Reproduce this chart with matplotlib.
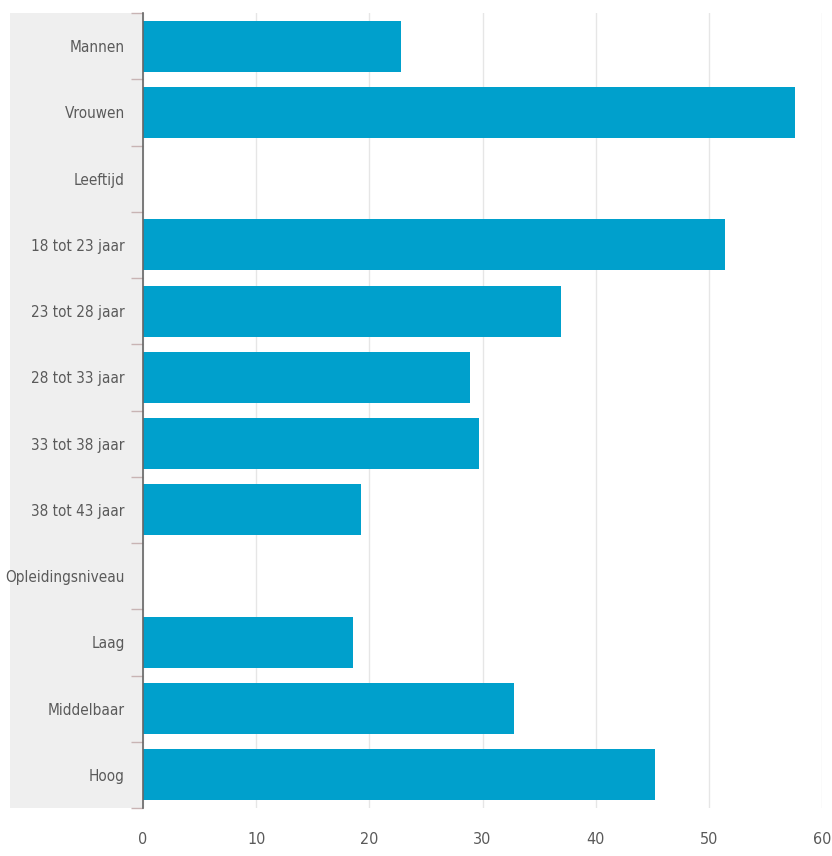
import matplotlib
matplotlib.use("Agg")
import matplotlib.pyplot as plt
from matplotlib.patches import Rectangle
import matplotlib.transforms as mtransforms
import numpy as np

categories = ["Mannen", "Vrouwen", "Leeftijd", "18 tot 23 jaar", "23 tot 28 jaar",
              "28 tot 33 jaar", "33 tot 38 jaar", "38 tot 43 jaar", "Opleidingsniveau",
              "Laag", "Middelbaar", "Hoog"]
values = [22.8, 57.6, np.nan, 51.4, 36.9, 28.9, 29.7, 19.3, np.nan, 18.6, 32.8, 45.2]
xticks = [0, 10, 20, 30, 40, 50, 60]

plt.rcParams['font.family'] = ['DejaVu Sans']
plt.rcParams['font.stretch'] = 'condensed'

fig = plt.figure(figsize=(8.32, 8.56), dpi=100)
L, R, B, T = 143/832, 822/832, 1-808/856, 1-13/856
ax = fig.add_axes([L, B, R-L, T-B])
ax.set_facecolor("none")

trans = mtransforms.blended_transform_factory(fig.transFigure, ax.transAxes)
ax.add_patch(Rectangle((10/832, 0), (143-10)/832, 1, transform=trans,
                       facecolor="#efefef", edgecolor="none", zorder=0, clip_on=False))

y = np.arange(len(categories))
vals = [0 if np.isnan(v) else v for v in values]
ax.barh(y, vals, height=0.77, color="#00a0cc", zorder=3)
ax.set_ylim(len(categories)-0.5, -0.5)
ax.set_xlim(0, 60)

ax.set_yticks(np.arange(-0.5, len(categories), 1))
ax.set_yticklabels([])
ax.set_yticks(y, minor=True)
ax.set_yticklabels(categories, minor=True)
ax.tick_params(axis='y', which='major', length=9, color="#c8b4b4", width=1)
ax.tick_params(axis='y', which='minor', length=0, pad=13, labelsize=11, labelcolor="#5a5a5a")

ax.set_xticks(xticks)
ax.set_xticklabels([str(t) for t in xticks])
ax.tick_params(axis='x', length=0, pad=17, labelsize=11.5, labelcolor="#5a5a5a")
ax.grid(axis='x', color="#e6e6e6", linewidth=1, zorder=1)

for s in ["top", "right", "bottom"]:
    ax.spines[s].set_visible(False)
ax.spines["left"].set_color("#666666")
ax.spines["left"].set_linewidth(1.2)
ax.spines["left"].set_zorder(4)

fig.savefig("out.png", dpi=100)
